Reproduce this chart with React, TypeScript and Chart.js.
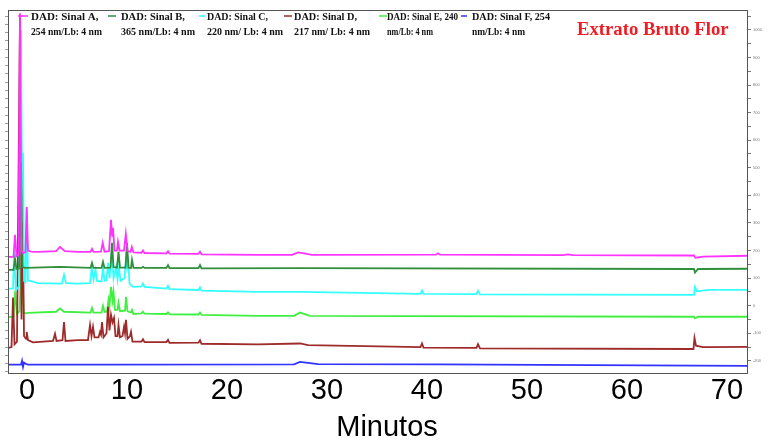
import React, { useEffect, useRef } from 'react';
import { Chart, registerables } from 'chart.js';

Chart.register(...registerables);

// ---- Data (retention time in minutes, detector response in mAU) ----
const seriesLabels = ['DAD: Sinal A,', 'DAD: Sinal B,', 'DAD: Sinal C,', 'DAD: Sinal D,', 'DAD: Sinal E, 240', 'DAD: Sinal F, 254'];
const seriesSubLabels = ['254 nm/Lb: 4 nm', '365 nm/Lb: 4 nm', '220 nm/ Lb: 4 nm', '217 nm/ Lb: 4 nm', 'nm/Lb: 4 nm', 'nm/Lb: 4 nm'];
const chartTitle = 'Extrato Bruto Flor';
const xAxisTitle = 'Minutos';
const xTickValues = [0, 10, 20, 30, 40, 50, 60, 70];
const yTickValues = [-200, -100, 0, 100, 200, 300, 400, 500, 600, 700, 800, 900, 1000];

const timeA = [0, 0.55, 0.7, 0.85, 1.05, 1.2, 1.35, 1.5, 1.75, 1.87, 2.0, 2.3, 3.0, 4.8, 5.2, 5.7, 7.0, 8.25, 8.4, 8.55, 9.3, 9.47, 9.65, 10.1, 10.3, 10.42, 10.5, 10.65, 10.9, 11.0, 11.15, 11.6, 11.78, 11.95, 12.25, 12.38, 12.55, 13.35, 13.5, 13.65, 15.85, 16.0, 16.15, 19.05, 19.2, 19.35, 25, 28.4, 29.0, 29.6, 30.4, 42.8, 43.0, 43.2, 55.5, 56.0, 56.5, 68.6, 68.75, 69.5, 74];
const sinalA = [177, 177, 257, 180, 185, 1060, 200, 190, 195, 358, 200, 196, 195, 198, 213, 198, 195, 195, 206, 195, 196, 228, 196, 198, 311, 250, 282, 200, 200, 231, 200, 200, 260, 198, 195, 213, 193, 192, 200, 191, 190, 197, 189, 188, 196, 186, 184, 184, 193, 190, 184, 185, 190, 185, 183, 186, 183, 182, 174, 178, 181];

const timeB = [0, 0.55, 0.7, 0.85, 1.1, 1.3, 1.45, 1.7, 5.2, 8.25, 8.4, 8.55, 9.35, 9.5, 9.65, 10.25, 10.4, 10.55, 10.9, 11.05, 11.2, 11.75, 11.9, 12.05, 12.3, 12.4, 12.55, 13.35, 13.5, 13.65, 15.85, 16.0, 16.15, 19.05, 19.2, 19.35, 29.2, 68.6, 68.7, 69.0, 74];
const sinalB = [130, 130, 170, 133, 135, 520, 140, 137, 141, 137, 155, 137, 137, 159, 137, 138, 228, 140, 138, 195, 138, 138, 228, 138, 137, 166, 137, 137, 141, 137, 137, 147, 136, 136, 147, 135, 136, 133, 120, 133, 134];

const timeC = [0, 0.5, 0.62, 0.78, 1.1, 1.3, 1.42, 1.5, 1.6, 1.75, 1.87, 2.0, 2.2, 3.0, 5.4, 5.6, 5.8, 7.0, 8.2, 8.38, 8.55, 8.75, 8.9, 9.35, 9.5, 9.65, 9.85, 10.0, 10.15, 10.4, 10.55, 10.8, 10.95, 11.1, 11.25, 11.65, 11.8, 11.9, 12.0, 12.15, 12.5, 13.35, 13.5, 13.65, 15.85, 16.0, 16.15, 19.05, 19.2, 19.35, 25, 29.2, 41.25, 41.4, 41.55, 46.85, 47.0, 47.2, 68.6, 68.7, 68.9, 70, 74];
const sinalC = [62, 62, 200, 55, 70, 1000, 300, 554, 90, 85, 358, 90, 90, 82, 80, 112, 82, 80, 82, 141, 95, 130, 90, 88, 137, 90, 92, 155, 100, 206, 100, 141, 95, 137, 90, 100, 166, 140, 177, 80, 68, 70, 80, 68, 62, 72, 60, 57, 66, 55, 50, 50, 43, 55, 43, 42, 54, 41, 39, 68, 52, 57, 57];

const timeD = [0, 0.35, 0.5, 0.65, 0.9, 1.2, 1.35, 1.45, 1.6, 1.8, 1.87, 2.0, 2.5, 4.5, 4.7, 4.85, 5.45, 5.6, 5.75, 7.0, 8.0, 8.2, 8.35, 8.5, 8.65, 9.05, 9.2, 9.3, 9.4, 9.55, 9.85, 10.0, 10.15, 10.3, 10.45, 10.6, 10.75, 10.95, 11.05, 11.2, 11.45, 11.6, 11.7, 11.8, 11.95, 12.2, 12.3, 12.45, 13.35, 13.5, 13.65, 15.85, 16.0, 16.15, 19.05, 19.2, 19.35, 25, 29.2, 30, 41.25, 41.4, 41.55, 46.85, 47.0, 47.2, 68.55, 68.65, 68.8, 69.5, 74];
const sinalD = [-153, -150, 30, -140, -130, 1054, -50, 413, -110, -120, -95, -125, -133, -128, -102, -128, -125, -59, -128, -125, -125, -70, -110, -77, -115, -115, -95, -105, -59, -115, -100, -4, -90, -33, -60, -44, -110, -110, -70, -115, -110, -77, -100, -51, -120, -110, -95, -130, -130, -122, -132, -132, -124, -135, -134, -125, -138, -140, -137, -143, -150, -137, -152, -153, -140, -155, -157, -117, -145, -150, -149];

const timeE = [0, 0.55, 0.72, 0.88, 1.15, 1.4, 1.55, 1.75, 2.0, 4.8, 5.2, 5.6, 8.25, 8.4, 8.55, 9.35, 9.5, 9.65, 9.9, 10.05, 10.15, 10.3, 10.45, 10.55, 10.7, 10.95, 11.05, 11.2, 11.7, 11.8, 11.95, 12.3, 12.4, 12.55, 13.35, 13.5, 13.65, 15.85, 16.0, 16.15, 19.05, 19.2, 19.35, 25, 28.6, 29.2, 30.2, 68.6, 68.7, 69, 74];
const sinalE = [-41, -40, 55, -30, -20, 205, -25, -28, -26, -22, -10, -22, -25, -8, -25, -25, 0, -22, -22, 21, 0, 68, 20, 50, -15, -15, 10, -20, -18, 32, -20, -25, -15, -30, -28, -22, -29, -30, -24, -31, -32, -25, -33, -37, -37, -25, -37, -40, -46, -40, -40];

const timeF = [0, 1.3, 1.4, 1.5, 1.6, 1.75, 2.0, 10, 28.6, 29.2, 30.0, 31.0, 43, 74];
const sinalF = [-214, -214, -200, -222, -206, -210, -214, -214, -213, -204, -207, -212, -213, -218];

const seriesTimes = [timeA, timeB, timeC, timeD, timeE, timeF];
const seriesValues = [sinalA, sinalB, sinalC, sinalD, sinalE, sinalF];

// ---- Styles ----
const seriesColors = ['#ff33ff', '#2f8f3a', '#33ffff', '#9e2a2a', '#40f040', '#3333ff'];
const legendLineX = [18, 108, 199, 284, 379, 461];
const legendLineLen = [10, 8, 6, 8, 8, 6];
const legendTextX = [31, 121, 207, 294, 387, 472];
const legendMax1 = [69, 64, 61, 63, 71, 78];
const legendMax2 = [71, 74, 76, 76, 46, 53];
const axisFont = '29px "Liberation Sans", Arial, sans-serif';

const overlayPlugin = {
  id: 'overlay',
  afterDraw(chart: any) {
    const { ctx, chartArea: a } = chart;
    ctx.save();
    ctx.strokeStyle = '#555';
    ctx.lineWidth = 1;
    ctx.strokeRect(a.left + 0.5, a.top + 0.5, a.right - a.left - 1, a.bottom - a.top);
    // legend
    ctx.textBaseline = 'alphabetic';
    ctx.textAlign = 'left';
    for (let i = 0; i < seriesLabels.length; i++) {
      ctx.strokeStyle = seriesColors[i];
      ctx.lineWidth = 1.5;
      ctx.beginPath();
      ctx.moveTo(legendLineX[i], 16);
      ctx.lineTo(legendLineX[i] + legendLineLen[i], 16);
      ctx.stroke();
      ctx.fillStyle = '#111';
      ctx.font = 'bold 11px "Liberation Serif", "Times New Roman", serif';
      ctx.fillText(seriesLabels[i], legendTextX[i], 20, legendMax1[i]);
      ctx.fillText(seriesSubLabels[i], legendTextX[i], 35, legendMax2[i]);
    }
    ctx.fillStyle = '#ee1c24';
    ctx.font = 'bold 18.7px "Liberation Serif", "Times New Roman", serif';
    ctx.fillText(chartTitle, 577, 35);
    // x tick labels and axis title, positioned through the x2 scale
    const sx = chart.scales.x2;
    ctx.fillStyle = '#000';
    ctx.font = axisFont;
    ctx.textAlign = 'center';
    for (const v of xTickValues) {
      ctx.fillText(String(v), sx.getPixelForValue(v), 399);
    }
    ctx.fillText(xAxisTitle, (a.left + a.right) / 2 + 9, 436);
    ctx.restore();
  },
};

export default function App() {
  const canvasRef = useRef<HTMLCanvasElement | null>(null);

  useEffect(() => {
    if (!canvasRef.current) return;
    const datasets = seriesLabels.map((label, i) => ({
      label,
      data: seriesTimes[i].map((t, j) => ({ x: t, y: seriesValues[i][j] })),
      borderColor: seriesColors[i],
      backgroundColor: seriesColors[i],
      borderWidth: 1.8,
      pointRadius: 0,
      tension: 0,
      fill: false,
      xAxisID: 'x',
      yAxisID: 'y',
    }));
    const chart = new Chart(canvasRef.current, {
      type: 'line',
      data: { datasets },
      options: {
        animation: false,
        responsive: false,
        devicePixelRatio: 1,
        layout: { padding: { top: 10, left: 0, right: 0, bottom: 0 } },
        plugins: { legend: { display: false }, tooltip: { enabled: false } },
        scales: {
          x: { type: 'linear', min: 0, max: 74, display: false },
          x2: {
            type: 'linear',
            position: 'bottom',
            min: -1.9,
            max: 72.1,
            afterBuildTicks: (s: any) => { s.ticks = xTickValues.map((v) => ({ value: v })); },
            afterFit: (s: any) => { s.height = 67; },
            grid: { display: false },
            border: { display: false },
            ticks: { display: false },
          },
          y: {
            type: 'linear',
            position: 'right',
            min: -244,
            max: 1072,
            afterBuildTicks: (s: any) => {
              const t: any[] = [];
              for (let v = -200; v <= 1050; v += 50) t.push({ value: v });
              s.ticks = t;
            },
            afterFit: (s: any) => { s.width = 23; },
            grid: { drawOnChartArea: false, drawTicks: true, tickLength: 3, color: '#777' },
            border: { display: false },
            ticks: {
              autoSkip: false,
              padding: 2,
              color: '#777',
              font: { family: '"Liberation Sans", Arial, sans-serif', size: 4 },
              callback: (v: any) => (yTickValues.includes(v) ? String(v) : ''),
            },
          },
          y2: {
            type: 'linear',
            position: 'left',
            min: -244,
            max: 1072,
            afterBuildTicks: (s: any) => {
              const t: any[] = [];
              for (let v = -240; v <= 1070; v += 30) t.push({ value: v });
              s.ticks = t;
            },
            afterFit: (s: any) => { s.width = 8; },
            grid: { drawOnChartArea: false, drawTicks: true, tickLength: 3, color: '#999' },
            border: { display: false },
            ticks: { display: false },
          },
        },
      },
      plugins: [overlayPlugin],
    } as any);
    return () => chart.destroy();
  }, []);

  return (
    <div style={{ position: 'fixed', left: 0, top: 0, width: 771, height: 440, background: '#fff' }}>
      <canvas ref={canvasRef} width={771} height={440} style={{ width: 771, height: 440, display: 'block' }} />
    </div>
  );
}
